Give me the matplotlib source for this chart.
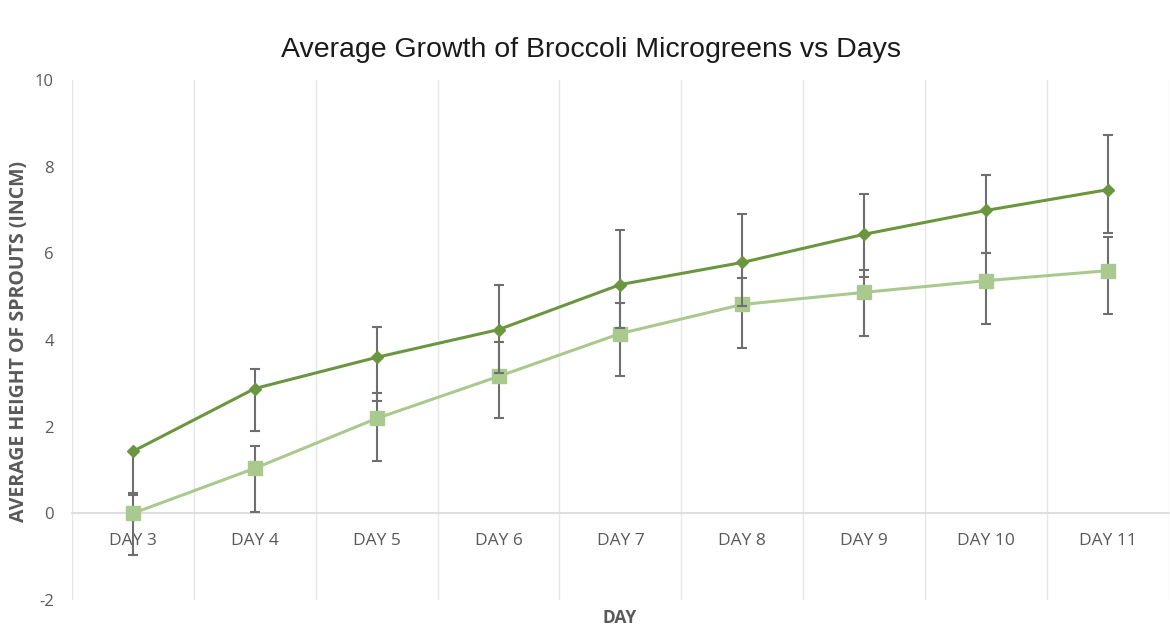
import numpy as np
import matplotlib
matplotlib.use("Agg")
import matplotlib.pyplot as plt

plt.rcParams["axes.unicode_minus"] = False

# data
days = ["DAY 3", "DAY 4", "DAY 5", "DAY 6", "DAY 7", "DAY 8", "DAY 9", "DAY 10", "DAY 11"]
dark_vals = [1.43, 2.88, 3.60, 4.24, 5.28, 5.79, 6.44, 6.99, 7.47]
dark_err_up = [0.00, 0.44, 0.71, 1.04, 1.25, 1.12, 0.92, 0.81, 1.26]
dark_err_down = [1.00, 0.98, 1.00, 1.00, 1.00, 1.00, 0.99, 0.99, 1.00]
light_vals = [0.00, 1.04, 2.19, 3.16, 4.15, 4.82, 5.10, 5.37, 5.60]
light_err_up = [0.46, 0.51, 0.59, 0.79, 0.71, 0.62, 0.51, 0.63, 0.77]
light_err_down = [0.97, 1.00, 0.98, 0.95, 0.98, 1.00, 1.01, 0.99, 1.01]

dark_green = "#6b9640"
light_green = "#a9c98e"
err_gray = "#6f6f6f"
text_gray = "#595959"

fig = plt.figure(figsize=(11.7, 6.32), dpi=100)
ax = fig.add_axes([0.0615, 0.0506, 0.9375, 0.8228])

x = np.arange(len(days))

ax.errorbar(x, light_vals, yerr=[light_err_down, light_err_up], color=light_green,
            lw=2.2, marker="s", ms=10, ecolor=err_gray, elinewidth=1.5,
            capsize=3.5, capthick=1.5, zorder=3)
ax.errorbar(x, dark_vals, yerr=[dark_err_down, dark_err_up], color=dark_green,
            lw=2.2, marker="D", ms=6, ecolor=err_gray, elinewidth=1.5,
            capsize=3.5, capthick=1.5, zorder=4)

ax.set_xlim(-0.5, len(days) - 0.5)
ax.set_ylim(-2, 10)
ax.set_yticks([-2, 0, 2, 4, 6, 8, 10])

# category axis crosses at zero
ax.spines["bottom"].set_position(("data", 0))
ax.spines["bottom"].set_color("#d9d9d9")
ax.spines["bottom"].set_linewidth(1.2)
for s in ["left", "right", "top"]:
    ax.spines[s].set_visible(False)

ax.set_xticks(x)
ax.set_xticklabels(days, family="Open Sans", fontsize=12.5)
ax.set_xticks(np.arange(-0.5, len(days)), minor=True)
ax.grid(which="minor", axis="x", color="#e6e6e6", lw=1)
ax.tick_params(axis="x", which="both", length=0, pad=14, labelcolor=text_gray)
ax.tick_params(axis="y", length=0, pad=13, labelsize=12, labelcolor=text_gray)
for lab in ax.get_yticklabels():
    lab.set_family("Open Sans")

fig.text(0.016, 0.459, "AVERAGE HEIGHT OF SPROUTS (INCM)", rotation=90,
         ha="center", va="center", fontsize=14, fontweight="bold",
         family="Open Sans", color=text_gray)
fig.text(0.53, 0.022, "DAY", ha="center", va="center", fontsize=12.5,
         fontweight="bold", family="Open Sans", color=text_gray)

fig.text(0.505, 0.921, "Average Growth of Broccoli Microgreens vs Days",
         ha="center", va="center", fontsize=20.5, family="Liberation Sans",
         color="#1a1a1a")

fig.savefig("out.png", dpi=100)
